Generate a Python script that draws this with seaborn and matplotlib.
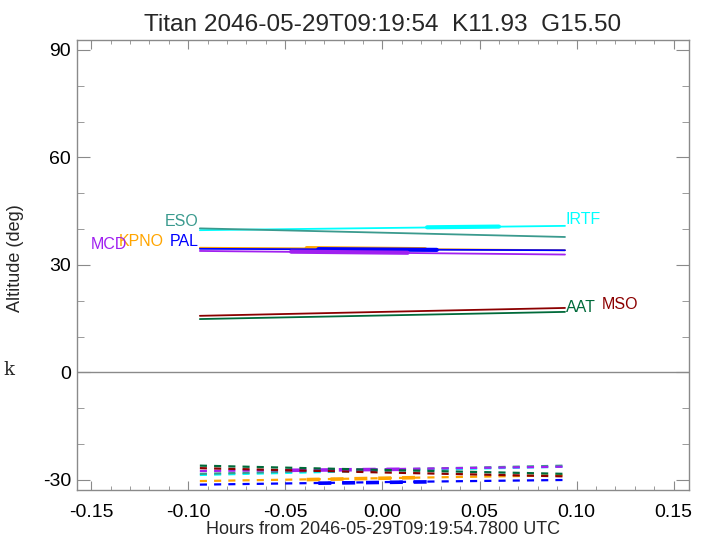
import numpy as np
import pandas as pd
import matplotlib
matplotlib.use("Agg")
import matplotlib.pyplot as plt
import seaborn as sns
from matplotlib.ticker import MultipleLocator

# hours from the reference time, read at the two ends and the middle
hours = [-0.094, 0.0, 0.094]

# target altitude (solid) per observatory
alt_irtf = [39.7, 40.3, 40.9]
alt_eso = [40.2, 39.0, 37.8]
alt_kpno = [34.8, 34.5, 34.1]
alt_pal = [34.5, 34.3, 34.1]
alt_mcd = [33.9, 33.4, 32.9]
alt_mso = [15.8, 16.9, 18.0]
alt_aat = [14.9, 15.9, 16.9]

# second quantity (dashed)
low_irtf = [-28.6, -27.4, -26.3]
low_eso = [-28.3, -27.1, -26.0]
low_kpno = [-30.3, -29.5, -28.7]
low_pal = [-31.3, -30.6, -30.0]
low_mcd = [-27.5, -27.0, -26.3]
low_mso = [-26.7, -27.9, -29.0]
low_aat = [-26.0, -27.2, -28.3]

# thick (observable) windows: hours start/end, solid alt, dashed alt
thick_irtf = dict(h=[0.023, 0.060], alt=[40.5, 40.7], low=None)
thick_kpno = dict(h=[-0.039, 0.022], alt=[34.7, 34.4], low=[-29.9, -29.3])
thick_pal = dict(h=[-0.033, 0.028], alt=[34.4, 34.2], low=[-30.9, -30.5])
thick_mcd = dict(h=[-0.047, 0.013], alt=[33.7, 33.4], low=[-27.3, -27.0])

sites = ["IRTF", "ESO", "KPNO", "PAL", "MCD", "MSO", "AAT"]
colors = {"IRTF": "#00ffff", "ESO": "#3a9a8e", "KPNO": "#ffa500",
          "PAL": "#0000ff", "MCD": "#a020f0", "MSO": "#8b0000",
          "AAT": "#006a3a"}
solid = {"IRTF": alt_irtf, "ESO": alt_eso, "KPNO": alt_kpno, "PAL": alt_pal,
         "MCD": alt_mcd, "MSO": alt_mso, "AAT": alt_aat}
dashed = {"IRTF": low_irtf, "ESO": low_eso, "KPNO": low_kpno, "PAL": low_pal,
          "MCD": low_mcd, "MSO": low_mso, "AAT": low_aat}
thick = {"IRTF": thick_irtf, "KPNO": thick_kpno, "PAL": thick_pal,
         "MCD": thick_mcd}

# label anchor (hours, alt, alignment)
labels = {"ESO": (-0.0945, 40.9, "right"), "KPNO": (-0.1125, 35.4, "right"),
          "PAL": (-0.0945, 35.4, "right"), "MCD": (-0.1315, 34.5, "right"),
          "IRTF": (0.0945, 41.5, "left"), "AAT": (0.0945, 16.8, "left"),
          "MSO": (0.113, 17.7, "left")}

sns.set_style("ticks")
plt.rcParams['font.family'] = ['Liberation Sans', 'DejaVu Sans']
gray = "#8a8a8a"

fig = plt.figure(figsize=(7.06, 5.39), dpi=100)
ax = fig.add_axes([0.1084, 0.0909, 0.8671, 0.8358])

for s in sites:
    df = pd.DataFrame({"h": hours, "alt": solid[s], "low": dashed[s]})
    sns.lineplot(data=df, x="h", y="alt", color=colors[s], lw=1.3, ax=ax)
    sns.lineplot(data=df, x="h", y="low", color=colors[s], lw=1.6,
                 linestyle=(0, (3.2, 3.2)), ax=ax)
    if s in thick:
        t = thick[s]
        sns.lineplot(x=t["h"], y=t["alt"], color=colors[s], lw=3.0, ax=ax)
        if t["low"] is not None:
            sns.lineplot(x=t["h"], y=t["low"], color=colors[s], lw=2.6,
                         linestyle=(0, (3.6, 3.0)), ax=ax)
    lx, ly, ha = labels[s]
    ax.text(lx, ly, s, color=colors[s], fontsize=11.5, ha=ha, va="baseline")

ax.axhline(0, color=gray, lw=1.0)

ax.set_xlim(-0.1575, 0.1577)
ax.set_ylim(-32.8, 92.9)
ax.xaxis.set_major_locator(MultipleLocator(0.05))
ax.xaxis.set_minor_locator(MultipleLocator(0.01))
ax.yaxis.set_major_locator(MultipleLocator(30))
ax.yaxis.set_minor_locator(MultipleLocator(10))
ax.set_xticks([-0.15, -0.10, -0.05, 0.0, 0.05, 0.10, 0.15])
ax.set_xticklabels(["-0.15", "-0.10", "-0.05", "0.00", "0.05", "0.10", "0.15"])
ax.set_yticks([-30, 0, 30, 60, 90])
ax.set_yticklabels(["-30", "0", "30", "60", "90"])

for sp in ax.spines.values():
    sp.set_color(gray)
    sp.set_linewidth(1.0)
ax.tick_params(axis="both", which="both", direction="in", colors=gray,
               labelcolor="black", labelsize=14, top=True, right=True)
ax.tick_params(axis="y", which="major", length=9.4, pad=4)
ax.tick_params(axis="y", which="minor", length=4.7)
ax.tick_params(axis="x", which="major", length=6.5, pad=10)
ax.tick_params(axis="x", which="minor", length=3.2)

ax.set_xlabel("Hours from 2046-05-29T09:19:54.7800 UTC", fontsize=13, labelpad=0)
ax.set_ylabel("Altitude (deg)", fontsize=13, labelpad=9)
ax.yaxis.set_label_coords(-0.085, 0.515)
ax.set_title("Titan 2046-05-29T09:19:54  K11.93  G15.50", fontsize=17.6, pad=6)
fig.text(0.005, 0.305, "k", fontsize=13, family="DejaVu Serif")

fig.savefig("out.png", dpi=100)
